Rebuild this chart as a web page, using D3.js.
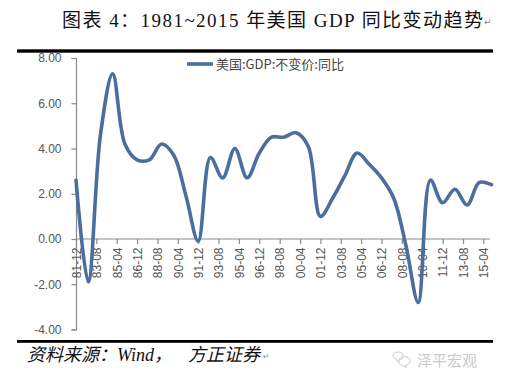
<!DOCTYPE html>
<html><head><meta charset="utf-8">
<script src="https://cdn.jsdelivr.net/npm/d3@7"></script>
<style>html,body{margin:0;padding:0;background:#fff;}svg{display:block;}</style>
</head><body>
<script>
const years = [1981,1982,1983,1984,1985,1986,1987,1988,1989,1990,1991,1992,1993,1994,1995,1996,1997,1998,1999,2000,2001,2002,2003,2004,2005,2006,2007,2008,2009,2010,2011,2012,2013,2014,2015];
const gdpYoY = [2.6,-1.9,4.6,7.3,4.2,3.5,3.5,4.2,3.7,1.9,-0.1,3.6,2.7,4.0,2.7,3.8,4.5,4.5,4.7,4.1,1.0,1.8,2.8,3.8,3.3,2.7,1.8,-0.3,-2.8,2.6,1.6,2.2,1.5,2.5,2.4];
const xTickLabels = ["81-12","83-08","85-04","86-12","88-08","90-04","91-12","93-08","95-04","96-12","98-08","00-04","01-12","03-08","05-04","06-12","08-08","10-04","11-12","13-08","15-04"];
const yTicks = [-4,-2,0,2,4,6,8];
const seriesName = "美国:GDP:不变价:同比";
const titleText = "图表 4：1981~2015 年美国 GDP 同比变动趋势";
const sourceParts = ["资料来源：", "Wind，", "方正证券"];
const watermark = "泽平宏观";

const W = 522, H = 380;
const svg = d3.select("body").append("svg").attr("width", W).attr("height", H);
svg.append("rect").attr("width", W).attr("height", H).attr("fill", "#fff");

const parseYM = s => { const [yy, mm] = s.split("-"); const y = +yy; return new Date(y < 50 ? 2000 + y : 1900 + y, +mm - 1, 1); };
const pts = years.map((y, i) => ({ date: new Date(y, 11, 1), v: gdpYoY[i] }));

const x = d3.scaleTime().domain([new Date(1981, 11, 1), new Date(2015, 11, 1)]).range([76, 491.5]);
const y = d3.scaleLinear().domain([-4, 8]).range([329.5, 58]);

// title
svg.append("text").attr("x", 62).attr("y", 27)
  .attr("font-family", "'Liberation Serif','Noto Sans CJK SC',serif").attr("font-size", 19)
  .attr("textLength", 421).attr("lengthAdjust", "spacing")
  .attr("fill", "#111").text(titleText);
svg.append("text").attr("x", 484).attr("y", 25).attr("font-size", 9).attr("fill", "#888")
  .attr("font-family", "DejaVu Sans").text("↵");
svg.append("rect").attr("x", 17).attr("y", 49.3).attr("width", 476).attr("height", 3.4).attr("fill", "#000");
svg.append("rect").attr("x", 17).attr("y", 340).attr("width", 476).attr("height", 2.8).attr("fill", "#000");

// y axis
const axisColor = "#8a8a8a";
const yAxis = d3.axisLeft(y).tickValues(yTicks).tickSize(4.5).tickPadding(10).tickFormat(v => v.toFixed(2));
const gy = svg.append("g").attr("transform", "translate(76,0)").call(yAxis);
gy.select(".domain").attr("stroke", axisColor).attr("stroke-width", 1.2);
gy.selectAll(".tick line").attr("stroke", axisColor).attr("stroke-width", 1.2);
gy.selectAll("text").attr("font-family", "'Liberation Sans',Arial,sans-serif").attr("font-size", 12).attr("fill", "#555");

// x axis
const xAxis = d3.axisBottom(x).tickValues(xTickLabels.map(parseYM)).tickSize(5).tickFormat((d, i) => xTickLabels[i]);
const gx = svg.append("g").attr("transform", `translate(0,${y(0)})`).call(xAxis);
gx.select(".domain").attr("stroke", axisColor).attr("stroke-width", 1.2).attr("d", `M76,0H490`);
gx.selectAll(".tick line").attr("stroke", axisColor).attr("stroke-width", 1.2);
gx.selectAll("text").attr("font-family", "'Liberation Sans',Arial,sans-serif").attr("font-size", 12).attr("fill", "#555")
  .attr("text-anchor", "end").attr("dy", null).attr("y", null)
  .attr("transform", "translate(4.3,8.5) rotate(-90)");

// line
const line = d3.line().x(d => x(d.date)).y(d => y(d.v)).curve(d3.curveCatmullRom.alpha(0.5));
svg.append("path").datum(pts).attr("d", line).attr("fill", "none")
  .attr("stroke", "#4a6e9e").attr("stroke-width", 3.6).attr("stroke-linejoin", "round").attr("stroke-linecap", "round");

// legend
svg.append("line").attr("x1", 187).attr("x2", 213).attr("y1", 64).attr("y2", 64)
  .attr("stroke", "#4a6e9e").attr("stroke-width", 3.6);
svg.append("text").attr("x", 216).attr("y", 68.5).attr("font-family", "'Noto Sans CJK SC',sans-serif")
  .attr("font-size", 13).attr("fill", "#444").text(seriesName);

// source
const src = svg.append("text").attr("y", 361).attr("font-family", "'Liberation Serif','Noto Sans CJK SC',serif")
  .attr("font-size", 18).attr("font-style", "italic").attr("fill", "#111");
src.append("tspan").attr("x", 27).text(sourceParts[0]);
src.append("tspan").attr("x", 117).text(sourceParts[1]);
src.append("tspan").attr("x", 188).text(sourceParts[2]);
svg.append("text").attr("x", 263).attr("y", 359).attr("font-size", 8).attr("fill", "#888")
  .attr("font-family", "DejaVu Sans").text("↵");

// watermark
const wm = svg.append("g").attr("fill", "none").attr("stroke", "#cdcdcd").attr("stroke-width", 1);
wm.append("path").attr("d", "M393,356 a5,4 0 1,1 6,4 l-2,2 l0,-2.5 a5,4 0 0,1 -4,-3.5");
wm.append("path").attr("d", "M399,361 a5.5,4.5 0 1,1 6,4.5 l1.5,2 l-3,-1.5 a5.5,4.5 0 0,1 -4.5,-5");
svg.append("text").attr("x", 417).attr("y", 366).attr("font-family", "'Noto Sans CJK SC',sans-serif")
  .attr("font-size", 15).attr("fill", "#cacaca").text(watermark);
</script>
</body></html>
